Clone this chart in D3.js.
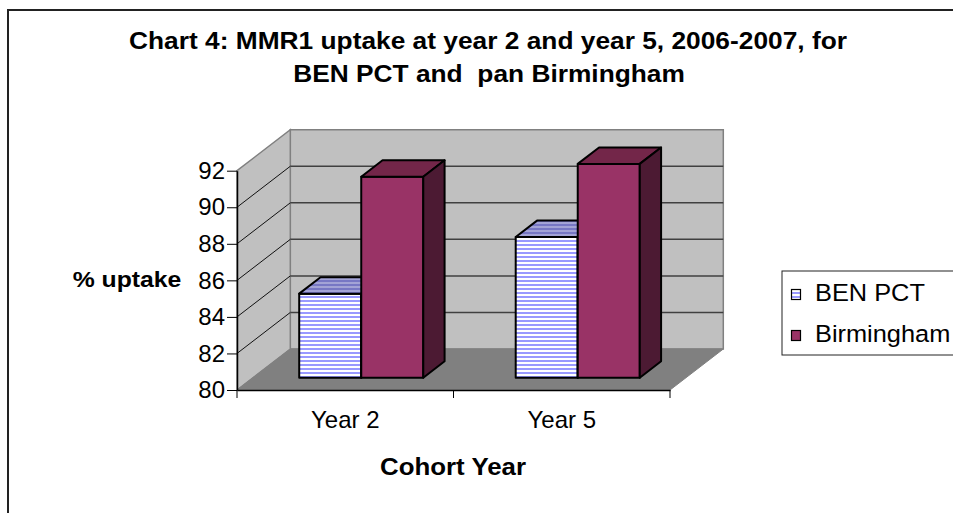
<!DOCTYPE html>
<html>
<head>
<meta charset="utf-8">
<script src="https://cdn.jsdelivr.net/npm/d3@7"></script>
<style>
  body { margin: 0; background: #fff; }
  text { font-family: Arial, 'Liberation Sans', sans-serif; fill: #000; }
</style>
</head>
<body>
<div id="chart"></div>
<script>
// Chart data
const categories = ['Year 2', 'Year 5'];
const seriesNames = ['BEN PCT', 'Birmingham'];
const benValues = [84.6, 87.7];
const birminghamValues = [91.0, 91.7];
const yTicks = [80, 82, 84, 86, 88, 90, 92];

const width = 953, height = 513;

// 3D layout: front plane and depth offset
const plot = {left: 237, right: 670, bottom: 390, top: 170.7};
const DX = 53.3, DY = 41;
const depthFront = 0.3, depthBack = 0.7;

const svg = d3.select('#chart')
  .append('svg')
  .attr('width', width)
  .attr('height', height);

// Patterns for BEN PCT stripes
const defs = svg.append('defs');
function stripes(id, c1, c2) {
  const p = defs.append('pattern')
    .attr('id', id)
    .attr('patternUnits', 'userSpaceOnUse')
    .attr('width', 8).attr('height', 4);
  p.append('rect').attr('width', 8).attr('height', 4).attr('fill', c2);
  p.append('rect').attr('width', 8).attr('height', 2).attr('fill', c1);
}
stripes('benFront', '#9999ff', '#ffffff');
stripes('benTop', '#7777c4', '#a3a3d6');

// Outer border
svg.append('rect')
  .attr('x', 8).attr('y', 10)
  .attr('width', 1000).attr('height', 1000)
  .attr('fill', 'none')
  .attr('stroke', '#222')
  .attr('stroke-width', 2);

// Scales
const y = d3.scaleLinear().domain([80, 92]).range([plot.bottom, plot.top]);
const x0 = d3.scaleBand().domain(categories).range([plot.left, plot.right]);
const gapHalf = x0.bandwidth() * 0.2135;
const x1 = d3.scaleBand().domain(seriesNames).range([gapHalf, x0.bandwidth() - gapHalf]);

const proj = (x, v, d) => [x + d * DX, y(v) - d * DY];
const pts = arr => arr.map(p => p.join(',')).join(' ');

const g = svg.append('g');

// Back wall
const wallTop = d3.max(yTicks);
g.append('polygon')
  .attr('points', pts([proj(plot.left, 80, 1), proj(plot.right, 80, 1),
                       proj(plot.right, wallTop, 1), proj(plot.left, wallTop, 1)]))
  .attr('fill', '#c0c0c0')
  .attr('stroke', '#808080')
  .attr('stroke-width', 1.5);

// Side wall
g.append('polygon')
  .attr('points', pts([proj(plot.left, 80, 0), proj(plot.left, 80, 1),
                       proj(plot.left, wallTop, 1), proj(plot.left, wallTop, 0)]))
  .attr('fill', '#c0c0c0')
  .attr('stroke', '#808080')
  .attr('stroke-width', 1.5);

// Gridlines on back and side walls
yTicks.slice(1, -1).forEach(t => {
  const a = proj(plot.left, t, 0), b = proj(plot.left, t, 1), c = proj(plot.right, t, 1);
  g.append('line')
    .attr('x1', a[0]).attr('y1', a[1]).attr('x2', b[0]).attr('y2', b[1])
    .attr('stroke', '#111').attr('stroke-width', 1);
  g.append('line')
    .attr('x1', b[0]).attr('y1', b[1]).attr('x2', c[0]).attr('y2', c[1])
    .attr('stroke', '#404040').attr('stroke-width', 1.5);
});

// Floor
g.append('polygon')
  .attr('points', pts([proj(plot.left, 80, 0), proj(plot.right, 80, 0),
                       proj(plot.right, 80, 1), proj(plot.left, 80, 1)]))
  .attr('fill', '#808080')
  .attr('stroke', '#808080')
  .attr('stroke-width', 1);

// Bars
const series = [
  {name: 'BEN PCT', values: benValues, front: 'url(#benFront)', top: 'url(#benTop)', side: '#6666aa'},
  {name: 'Birmingham', values: birminghamValues, front: '#993366', top: '#732649', side: '#4c1a33'}
];

categories.forEach((cat, i) => {
  series.forEach(s => {
    const v = s.values[i];
    const xl = x0(cat) + x1(s.name);
    const xr = xl + x1.bandwidth();
    const bar = g.append('g');
    bar.append('polygon')
      .attr('points', pts([proj(xl, 80, depthFront), proj(xr, 80, depthFront),
                           proj(xr, v, depthFront), proj(xl, v, depthFront)]))
      .attr('fill', s.front);
    bar.append('polygon')
      .attr('points', pts([proj(xl, v, depthFront), proj(xr, v, depthFront),
                           proj(xr, v, depthBack), proj(xl, v, depthBack)]))
      .attr('fill', s.top);
    bar.append('polygon')
      .attr('points', pts([proj(xr, 80, depthFront), proj(xr, 80, depthBack),
                           proj(xr, v, depthBack), proj(xr, v, depthFront)]))
      .attr('fill', s.side);
    bar.selectAll('polygon')
      .attr('stroke', '#000')
      .attr('stroke-width', 2)
      .attr('stroke-linejoin', 'round');
  });
});

// Y axis
const yAxis = svg.append('g')
  .attr('transform', `translate(${plot.left},0)`)
  .call(d3.axisLeft(y).tickValues(yTicks).tickSize(10).tickPadding(2).tickSizeOuter(0));
yAxis.select('.domain').attr('stroke', '#000').attr('stroke-width', 1.5);
yAxis.selectAll('.tick line').attr('stroke', '#000');
yAxis.selectAll('.tick text')
  .attr('font-size', 24)
  .attr('font-family', "Arial, 'Liberation Sans', sans-serif");

// X axis
const xAxis = svg.append('g')
  .attr('transform', `translate(0,${plot.bottom})`)
  .call(d3.axisBottom(x0).tickSize(0).tickPadding(21).tickSizeOuter(0));
xAxis.select('.domain').attr('stroke', '#000').attr('stroke-width', 1.5);
xAxis.selectAll('.tick text')
  .attr('font-size', 24)
  .attr('font-family', "Arial, 'Liberation Sans', sans-serif");
const bounds = categories.map(c => x0(c)).concat([plot.right]);
xAxis.selectAll('.bound')
  .data(bounds)
  .enter()
  .append('line')
  .attr('x1', d => d).attr('x2', d => d)
  .attr('y1', 0).attr('y2', 8)
  .attr('stroke', '#000');

// Stretched text helper
function label(txt, x, yy, size, weight, sx, anchor) {
  svg.append('text')
    .attr('transform', `translate(${x},${yy}) scale(${sx},1)`)
    .attr('text-anchor', anchor || 'middle')
    .attr('font-size', size)
    .attr('font-weight', weight)
    .style('white-space', 'pre')
    .text(txt);
}

// Titles
label('Chart 4: MMR1 uptake at year 2 and year 5, 2006-2007, for', 488, 48.5, 23.5, 'bold', 1.12);
label('BEN PCT and  pan Birmingham', 489, 81.5, 23.5, 'bold', 1.12);
label('% uptake', 127, 287, 22.5, 'bold', 1.1);
label('Cohort Year', 453, 475, 23.5, 'bold', 1.1);

// Legend
svg.append('rect')
  .attr('x', 782).attr('y', 271)
  .attr('width', 220).attr('height', 84)
  .attr('fill', '#fff')
  .attr('stroke', '#222')
  .attr('stroke-width', 1);
series.forEach((s, i) => {
  const base = 300.5 + i * 41;
  svg.append('rect')
    .attr('x', 791.5).attr('y', base - 11)
    .attr('width', 9).attr('height', 10)
    .attr('fill', s.front)
    .attr('stroke', '#000')
    .attr('stroke-width', 1.2);
  label(s.name, 815, base, 23.5, 'normal', 1.08, 'start');
});
</script>
</body>
</html>
